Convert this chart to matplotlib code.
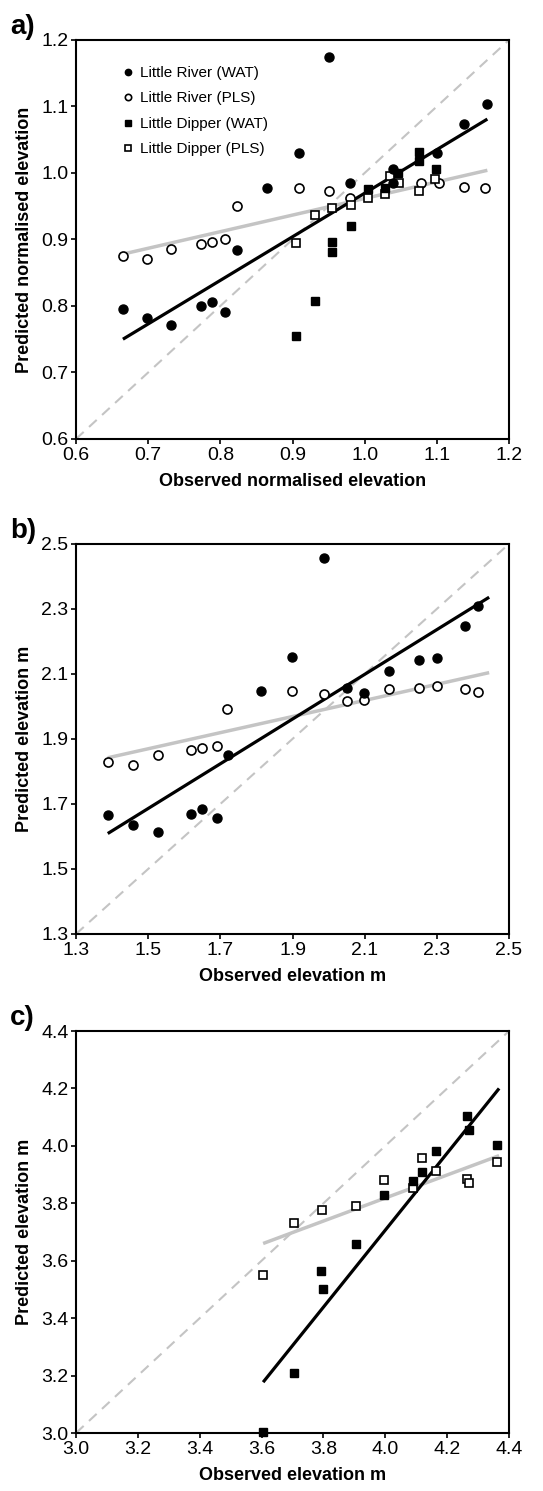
import numpy as np
import matplotlib.pyplot as plt

plt.rcParams['font.family'] = ['Liberation Sans', 'DejaVu Sans']

# ---- panel a: normalised elevation ----
a_lr_wat_x = [0.665, 0.698, 0.731, 0.773, 0.7885, 0.807, 0.823, 0.865, 0.9085, 0.951,
              0.979, 1.039, 1.039, 1.100, 1.137, 1.169]
a_lr_wat_y = [0.795, 0.782, 0.7715, 0.7995, 0.8055, 0.7905, 0.8835, 0.9775, 1.030, 1.175,
              0.9845, 1.0065, 0.9855, 1.0295, 1.074, 1.1035]
a_lr_pls_x = [0.665, 0.698, 0.731, 0.773, 0.7885, 0.807, 0.823, 0.9085, 0.951, 0.979,
              1.0785, 1.103, 1.137, 1.167]
a_lr_pls_y = [0.875, 0.8705, 0.8855, 0.8935, 0.896, 0.900, 0.950, 0.9775, 0.973, 0.9625,
              0.9845, 0.9855, 0.979, 0.9775]
a_ld_wat_x = [0.9045, 0.9307, 0.9545, 0.9545, 0.9815, 1.0046, 1.0286, 1.046, 1.0753, 1.0753, 1.099]
a_ld_wat_y = [0.755, 0.8075, 0.896, 0.881, 0.9205, 0.9755, 0.978, 1.0005, 1.0315, 1.0175, 1.0055]
a_ld_pls_x = [0.9045, 0.9307, 0.9545, 0.9815, 1.0046, 1.0286, 1.0356, 1.0476, 1.0753, 1.098]
a_ld_pls_y = [0.894, 0.937, 0.948, 0.9515, 0.963, 0.968, 0.9955, 0.9845, 0.973, 0.9915]
a_fit_x = [0.665, 1.170]
a_fit_wat_y = [0.750, 1.081]
a_fit_pls_y = [0.878, 1.004]

# ---- panel b: elevation, Little River ----
b_wat_x = [1.388, 1.459, 1.528, 1.620, 1.649, 1.690, 1.720, 1.812, 1.899, 1.987,
           2.051, 2.098, 2.168, 2.250, 2.300, 2.378, 2.415]
b_wat_y = [1.665, 1.6365, 1.6145, 1.669, 1.685, 1.657, 1.850, 2.046, 2.153, 2.458,
           2.0575, 2.041, 2.108, 2.1415, 2.150, 2.247, 2.309]
b_pls_x = [1.388, 1.459, 1.528, 1.620, 1.649, 1.690, 1.719, 1.899, 1.987,
           2.051, 2.098, 2.168, 2.250, 2.300, 2.378, 2.415]
b_pls_y = [1.830, 1.821, 1.850, 1.8665, 1.871, 1.879, 1.9915, 2.046, 2.038,
           2.018, 2.021, 2.0535, 2.0575, 2.0615, 2.0535, 2.045]
b_fit_x = [1.388, 2.445]
b_fit_wat_y = [1.609, 2.336]
b_fit_pls_y = [1.842, 2.104]

# ---- panel c: elevation, Little Dipper ----
c_wat_x = [3.605, 3.705, 3.793, 3.797, 3.906, 3.995, 4.088, 4.120, 4.164, 4.265, 4.270, 4.361]
c_wat_y = [3.002, 3.210, 3.564, 3.500, 3.657, 3.829, 3.879, 3.909, 3.981, 4.104, 4.055, 4.002]
c_pls_x = [3.605, 3.705, 3.795, 3.904, 3.995, 4.088, 4.120, 4.164, 4.265, 4.270, 4.361]
c_pls_y = [3.551, 3.733, 3.778, 3.791, 3.882, 3.853, 3.958, 3.914, 3.884, 3.869, 3.944]
c_fit_x = [3.605, 4.368]
c_fit_wat_y = [3.177, 4.200]
c_fit_pls_y = [3.660, 3.966]

fig = plt.figure(figsize=(5.43, 14.91), dpi=100)
ax_a = fig.add_axes([0.140, 0.7056, 0.7974, 0.2676])
ax_b = fig.add_axes([0.140, 0.3736, 0.7974, 0.2616])
ax_c = fig.add_axes([0.140, 0.0389, 0.7974, 0.2696])

GREY = '#c4c4c4'
ms = 6.5


def style(ax, lims, ticks, xlabel, ylabel, letter):
    ax.plot(lims, lims, '--', color=GREY, lw=1.5, dashes=(5, 3.5), zorder=1, clip_on=False)
    ax.set_xlim(lims)
    ax.set_ylim(lims)
    ax.set_xticks(ticks)
    ax.set_yticks(ticks)
    ax.set_xticklabels(['%.1f' % t for t in ticks], fontsize=14)
    ax.set_yticklabels(['%.1f' % t for t in ticks], fontsize=14)
    ax.tick_params(direction='out', length=3.5, width=1.2, pad=2)
    for s in ax.spines.values():
        s.set_linewidth(1.5)
    ax.set_xlabel(xlabel, fontsize=13, fontweight='bold', labelpad=7)
    ax.set_ylabel(ylabel, fontsize=13, fontweight='bold', labelpad=6)
    ax.text(-0.152, 1.0, letter, transform=ax.transAxes, fontsize=20,
            fontweight='bold', ha='left', va='bottom')


def fits(ax, fx, wy, py):
    ax.plot(fx, py, color=GREY, lw=2.5, zorder=2, solid_capstyle='butt')
    ax.plot(fx, wy, color='black', lw=2.3, zorder=2, solid_capstyle='butt')


# panel a
style(ax_a, [0.6, 1.2], [0.6, 0.7, 0.8, 0.9, 1.0, 1.1, 1.2],
      'Observed normalised elevation', 'Predicted normalised elevation', 'a)')
fits(ax_a, a_fit_x, a_fit_wat_y, a_fit_pls_y)
h1, = ax_a.plot(a_lr_wat_x, a_lr_wat_y, 'o', color='black', ms=ms, zorder=4, label='Little River (WAT)')
h2, = ax_a.plot(a_lr_pls_x, a_lr_pls_y, 'o', mfc='white', mec='black', mew=1.2, ms=ms, zorder=3,
                label='Little River (PLS)')
h3, = ax_a.plot(a_ld_wat_x, a_ld_wat_y, 's', color='black', ms=ms - 0.5, zorder=4, label='Little Dipper (WAT)')
h4, = ax_a.plot(a_ld_pls_x, a_ld_pls_y, 's', mfc='white', mec='black', mew=1.2, ms=ms - 0.5, zorder=3,
                label='Little Dipper (PLS)')
leg = ax_a.legend(handles=[h1, h2, h3, h4], loc='upper left', bbox_to_anchor=(0.095, 0.95),
                  frameon=False, fontsize=11, markerscale=0.7, handlelength=0.6,
                  handletextpad=0.5, labelspacing=0.75, borderaxespad=0)

# panel b
style(ax_b, [1.3, 2.5], [1.3, 1.5, 1.7, 1.9, 2.1, 2.3, 2.5],
      'Observed elevation m', 'Predicted elevation m', 'b)')
fits(ax_b, b_fit_x, b_fit_wat_y, b_fit_pls_y)
ax_b.plot(b_pls_x, b_pls_y, 'o', mfc='white', mec='black', mew=1.2, ms=ms, zorder=3)
ax_b.plot(b_wat_x, b_wat_y, 'o', color='black', ms=ms, zorder=4)

# panel c
style(ax_c, [3.0, 4.4], [3.0, 3.2, 3.4, 3.6, 3.8, 4.0, 4.2, 4.4],
      'Observed elevation m', 'Predicted elevation m', 'c)')
fits(ax_c, c_fit_x, c_fit_wat_y, c_fit_pls_y)
ax_c.plot(c_pls_x, c_pls_y, 's', mfc='white', mec='black', mew=1.2, ms=ms - 0.5, zorder=3, clip_on=False)
ax_c.plot(c_wat_x, c_wat_y, 's', color='black', ms=ms - 0.5, zorder=4, clip_on=False)

fig.savefig('out.png', dpi=100)
